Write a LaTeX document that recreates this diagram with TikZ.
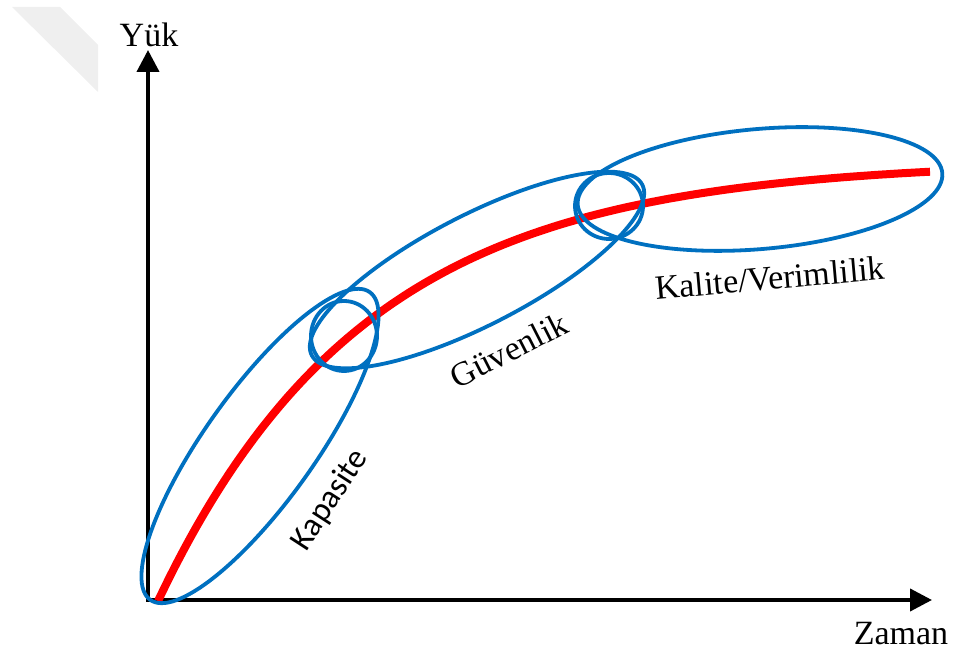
\documentclass[tikz,border=0pt]{standalone}
\usepackage{fontspec}
\setmainfont{Liberation Serif}
\newfontfamily\calib{Carlito}
\usetikzlibrary{arrows.meta}
\definecolor{ovalblue}{HTML}{0070C0}
\definecolor{wmgray}{HTML}{EFEFEF}
\tikzset{
  axisline/.style={line width=4pt, line join=miter, {Triangle[length=22pt,width=22pt]}-{Triangle[length=22pt,width=22pt]}},
  oval/.style={draw=ovalblue, line width=3.8pt},
  curveline/.style={draw=red, line width=8pt},
  lbl/.style={inner sep=0pt, font=\fontsize{34}{36}\selectfont},
  lblsans/.style={inner sep=0pt, font=\calib\fontsize{33}{36}\selectfont},
}
\begin{document}
\begin{tikzpicture}[x=1pt,y=1pt]
\useasboundingbox (0,0) rectangle (957,652);
% faint watermark remnant
\fill[wmgray] (12,645) -- (60,645) -- (98,607) -- (98,560) -- cycle;
% axes
\coordinate (ytop) at (148,602);
\coordinate (orig) at (148,52);
\coordinate (xend) at (932,52);
\draw[axisline] (ytop) -- (orig) -- (xend);
\node[lbl] (yl) at (149,617) {Yük};
\node[lbl] (xl) at (901,18) {Zaman};
% red curve
\draw[curveline] plot[domain=158:930, samples=90, smooth] (\x, {51 + 440*(1-exp(-(\x-158)/208))});
% ellipses
\draw[oval, rotate around={54.5:(260,206)}] (260,206) ellipse [x radius=189, y radius=55];
\draw[oval] (344,316) ellipse [x radius=33, y radius=35];
\draw[oval, rotate around={27.3:(477,382)}] (477,382) ellipse [x radius=186, y radius=55];
\draw[oval] (609,446) ellipse [x radius=34, y radius=33];
\draw[oval, rotate around={5:(760,463)}] (760,463) ellipse [x radius=183, y radius=60];
% labels
\node[lblsans, rotate=57] (kap) at (330,152) {Kapasite};
\node[lbl, rotate=27] (guv) at (509,302) {Güvenlik};
\node[lbl, rotate=5] (kal) at (770,374) {Kalite/Verimlilik};
\end{tikzpicture}
\end{document}
